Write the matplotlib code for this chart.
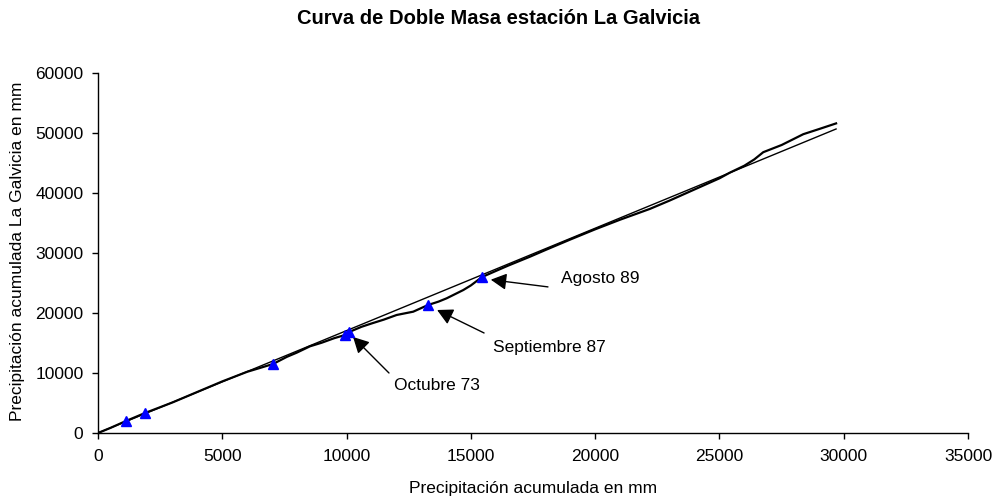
import matplotlib
matplotlib.use("Agg")
import matplotlib.pyplot as plt

plt.rcParams['font.family'] = ['Liberation Sans', 'DejaVu Sans']

# Double-mass curve (accumulated precipitation)
curve_x = [0, 500, 1126, 1500, 1890, 2500, 3000, 4000, 5000, 6000, 7040, 7600, 8000, 8528,
           9000, 9500, 9935, 10100, 10600, 11000, 11500, 12014, 12680, 13275,
           13700, 14025, 14695, 15000, 15450, 16000, 16500, 17380, 18000, 19000, 20000,
           21000, 22200, 23000, 24000, 25000, 25420, 26000, 26400, 26760, 27500, 28370, 29000, 29690]
curve_y = [0, 850, 2000, 2650, 3330, 4300, 5100, 6850, 8600, 10200, 11500, 12700, 13400, 14450,
           15050, 15800, 16330, 16830, 17700, 18250, 18900, 19670, 20220, 21330,
           21900, 22450, 23830, 24600, 26000, 27000, 27900, 29390, 30500, 32250, 33950,
           35550, 37350, 38750, 40600, 42450, 43400, 44550, 45600, 46800, 48000, 49800, 50650, 51600]

# Reference straight line
line_x = [0, 29690]
line_y = [0, 50670]

# Marked points
mark_x = [1126, 1890, 7040, 9935, 10100, 13275, 15450]
mark_y = [2000, 3330, 11500, 16330, 16830, 21330, 26000]

# Annotations
ann_text = ["Octubre 73", "Septiembre 87", "Agosto 89"]
ann_head = [(10260, 16000), (13640, 20500), (15800, 25550)]
ann_tail = [(11705, 10000), (15530, 16670), (18100, 24350)]
ann_text_pos = [(11900, 8000), (15890, 14170), (18630, 25830)]

fig = plt.figure(figsize=(9.97, 5.0), dpi=100)
ax = fig.add_axes([0.0983, 0.134, 0.8727, 0.72])

ax.plot(line_x, line_y, color='black', lw=1.0, zorder=2)
ax.plot(curve_x, curve_y, color='black', lw=1.6, zorder=3)
ax.plot(mark_x, mark_y, linestyle='none', marker='^', color='#0000FF', markersize=7.5, zorder=4)

for t, h, tl, tp in zip(ann_text, ann_head, ann_tail, ann_text_pos):
    ax.annotate('', xy=h, xytext=tl,
                arrowprops=dict(arrowstyle='-|>,head_length=0.95,head_width=0.5',
                                color='black', lw=1.0, shrinkA=0, shrinkB=0))
    ax.text(tp[0], tp[1], t, fontsize=12.5, va='center', ha='left')

ax.set_xlim(0, 35000)
ax.set_ylim(0, 60000)
ax.set_xticks(range(0, 35001, 5000))
ax.set_yticks(range(0, 60001, 10000))
ax.tick_params(axis='both', labelsize=12.5, direction='out', length=4, width=1, colors='black')
ax.tick_params(axis='x', pad=7.5)
ax.tick_params(axis='y', pad=6.5)
for s in ['top', 'right']:
    ax.spines[s].set_visible(False)
for s in ['left', 'bottom']:
    ax.spines[s].set_color('black')
    ax.spines[s].set_linewidth(1)

ax.set_xlabel('Precipitación acumulada en mm', fontsize=12.5, va='center')
ax.xaxis.set_label_coords(0.5, -0.153)
ax.set_ylabel('Precipitación acumulada La Galvicia en mm', fontsize=12.5, va='center')
ax.yaxis.set_label_coords(-0.092, 0.505)
fig.text(0.5, 0.964, 'Curva de Doble Masa estación La Galvicia', ha='center', va='center',
         fontsize=14.5, fontweight='bold')

fig.savefig('out.png', dpi=100)
